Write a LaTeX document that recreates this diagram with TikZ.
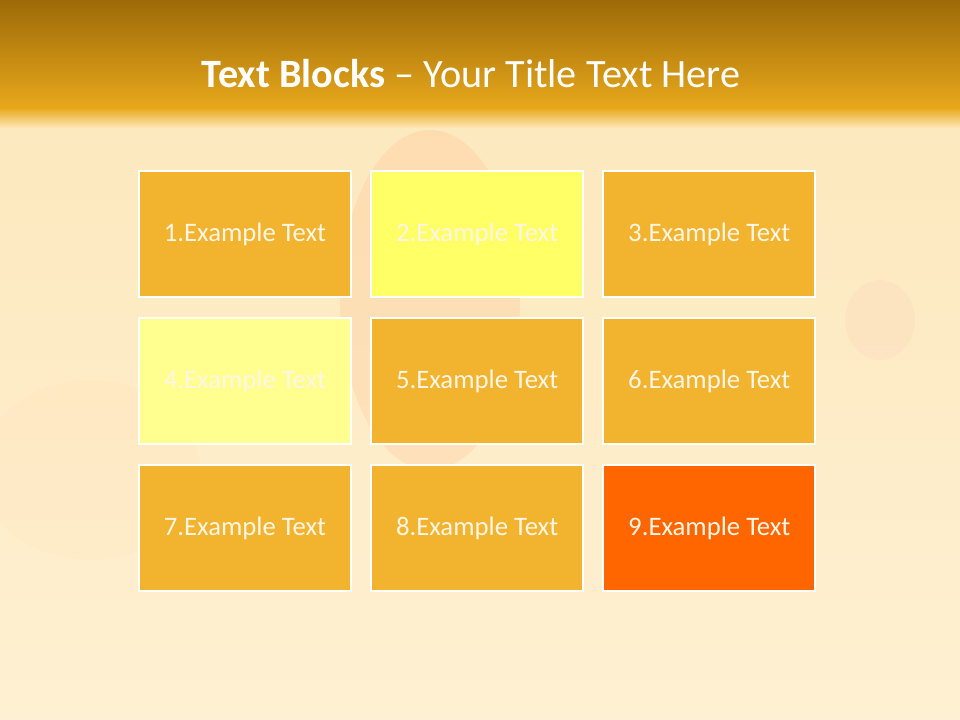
\documentclass[tikz,border=0pt]{standalone}
\usepackage{fontspec}
\setmainfont{Carlito}
\usepackage{xcolor}
\usetikzlibrary{positioning}
\definecolor{pagebg}{HTML}{FDE7BA}
\definecolor{pagelow}{HTML}{FEF0D2}
\definecolor{bartop}{HTML}{9C6A08}
\definecolor{barbot}{HTML}{E8A81C}
\definecolor{blockorange}{HTML}{F2B32F}
\definecolor{blockyellow}{HTML}{FFFF66}
\definecolor{blockpale}{HTML}{FFFF8F}
\definecolor{blockred}{HTML}{FF6600}
\definecolor{blocktext}{HTML}{FFF6E6}

\begin{document}
\begin{tikzpicture}[x=0.025cm, y=-0.025cm, node distance={0.475cm and 0.45cm},
  block/.style={draw=white, line width=1.5pt, fill=blockorange, text=blocktext, minimum width=5.3cm, minimum height=3.15cm, font=\fontsize{19}{22}\selectfont},
  title/.style={text=white, font=\fontsize{28.6}{32}\selectfont}]
\useasboundingbox (0,0) rectangle (960,720);
% background
\shade[top color=pagebg, bottom color=pagelow] (0,0) rectangle (960,720);
\fill[red!40!orange, opacity=0.07] (430,300) ellipse (90 and 170);
\fill[red!40, opacity=0.08] (880,320) ellipse (35 and 40);
\fill[orange!40, opacity=0.07] (90,470) ellipse (110 and 90);
% header bar
\shade[top color=bartop, bottom color=barbot] (0,0) rectangle (960,108);
\shade[top color=barbot, bottom color=pagebg] (0,108) rectangle (960,128);
\node[title] (t) at (471,74) {\textbf{Text Blocks} -- Your Title Text Here};
% blocks
\node[block] (b1) at (245,234) {1.Example Text};
\node[block, fill=blockyellow, right=of b1] (b2) {2.Example Text};
\node[block, right=of b2] (b3) {3.Example Text};
\node[block, fill=blockpale, below=of b1] (b4) {4.Example Text};
\node[block, right=of b4] (b5) {5.Example Text};
\node[block, right=of b5] (b6) {6.Example Text};
\node[block, below=of b4] (b7) {7.Example Text};
\node[block, right=of b7] (b8) {8.Example Text};
\node[block, fill=blockred, right=of b8] (b9) {9.Example Text};
\end{tikzpicture}
\end{document}
